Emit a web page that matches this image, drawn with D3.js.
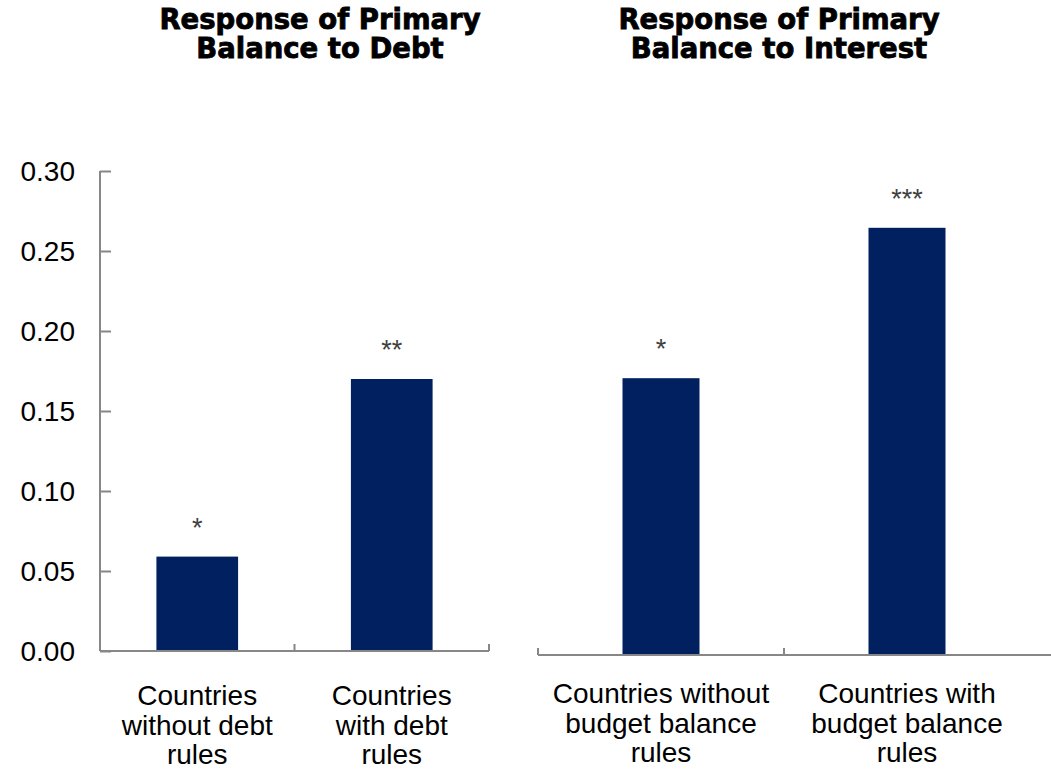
<!DOCTYPE html>
<html>
<head>
<meta charset="utf-8">
<script src="https://cdn.jsdelivr.net/npm/d3@7"></script>
<style>
  html, body { margin: 0; padding: 0; background: #ffffff; }
  svg { display: block; }
  text { font-family: "Liberation Sans", Arial, sans-serif; }
  text.title { font-family: "DejaVu Sans", sans-serif; font-weight: 900; }
</style>
</head>
<body>
<svg id="chart" width="1051" height="782"></svg>
<script>
// Panel 1: response of primary balance to debt
const debtCategories = ["Countries\nwithout debt\nrules", "Countries\nwith debt\nrules"];
const debtValues = [0.059, 0.170];
const debtStars = ["*", "**"];

// Panel 2: response of primary balance to interest
const interestCategories = ["Countries without\nbudget balance\nrules", "Countries with\nbudget balance\nrules"];
const interestValues = [0.173, 0.267];
const interestStars = ["*", "***"];

const yTicks = [0, 0.05, 0.10, 0.15, 0.20, 0.25, 0.30];
const titles = [["Response of Primary", "Balance to Debt"], ["Response of Primary", "Balance to Interest"]];

const BAR = "#002060";
const AXIS = "#878787";
const svg = d3.select("#chart");

function panel(cfg) {
  const g = svg.append("g");
  const x = d3.scaleBand().domain(cfg.categories).range(cfg.xRange).padding(0);
  const y = d3.scaleLinear().domain([0, 0.30]).range(cfg.yRange);
  const bw = x.bandwidth() * cfg.barRatio;

  // bars
  g.selectAll("rect.bar").data(cfg.values).enter().append("rect")
    .attr("class", "bar")
    .attr("x", (d, i) => x(cfg.categories[i]) + (x.bandwidth() - bw) / 2)
    .attr("y", d => y(d))
    .attr("width", bw)
    .attr("height", d => y(0) - y(d))
    .attr("fill", BAR);

  // significance stars
  g.selectAll("text.star").data(cfg.values).enter().append("text")
    .attr("class", "star")
    .attr("x", (d, i) => x(cfg.categories[i]) + x.bandwidth() / 2)
    .attr("y", d => y(d) - 20)
    .attr("text-anchor", "middle")
    .attr("font-size", 27)
    .attr("fill", "#404040")
    .text((d, i) => cfg.stars[i]);

  // category axis
  const base = y(0);
  g.append("line")
    .attr("x1", cfg.xRange[0]).attr("x2", cfg.axisEnd)
    .attr("y1", base).attr("y2", base)
    .attr("stroke", AXIS).attr("stroke-width", 2);
  const tickXs = cfg.categories.map(c => x(c)).concat(cfg.endTick ? [cfg.xRange[1]] : []);
  g.selectAll("line.xt").data(tickXs).enter().append("line")
    .attr("x1", d => d).attr("x2", d => d)
    .attr("y1", base).attr("y2", base - 7)
    .attr("stroke", AXIS).attr("stroke-width", 2);

  // category labels
  cfg.categories.forEach(c => {
    const t = g.append("text")
      .attr("x", x(c) + x.bandwidth() / 2)
      .attr("y", cfg.labelY)
      .attr("text-anchor", "middle")
      .attr("font-size", 28)
      .attr("fill", "#000");
    c.split("\n").forEach((line, k) => {
      t.append("tspan").attr("x", x(c) + x.bandwidth() / 2).attr("dy", k === 0 ? 0 : 29.5).text(line);
    });
  });

  // value axis
  if (cfg.showY) {
    const axis = d3.axisRight(y).tickValues(yTicks).tickSize(11).tickFormat(d3.format(".2f"));
    const ag = g.append("g").attr("transform", `translate(${cfg.xRange[0]},0)`).call(axis);
    ag.select(".domain").attr("stroke", AXIS).attr("stroke-width", 2).attr("d", `M0,${y(0.30)}V${y(0)}`);
    ag.selectAll(".tick line").attr("stroke", AXIS).attr("stroke-width", 2);
    ag.selectAll(".tick text")
      .attr("x", -25).attr("dy", "0.35em")
      .attr("text-anchor", "end")
      .attr("font-size", 28)
      .attr("font-family", "Liberation Sans, Arial, sans-serif")
      .attr("fill", "#000");
  }

  // panel title
  const tt = g.append("text")
    .attr("class", "title")
    .attr("x", cfg.titleX).attr("y", 29)
    .attr("text-anchor", "middle")
    .attr("font-size", 27.5)
    .attr("fill", "#000")
    .attr("stroke", "#000")
    .attr("stroke-width", 0.8);
  cfg.title.forEach((line, k) => {
    tt.append("tspan").attr("x", cfg.titleX).attr("dy", k === 0 ? 0 : 29).text(line);
  });
}

panel({
  categories: debtCategories, values: debtValues, stars: debtStars,
  xRange: [100, 489], axisEnd: 489, endTick: true, yRange: [651, 171], barRatio: 0.42,
  showY: true, labelY: 705, title: titles[0], titleX: 320
});

panel({
  categories: interestCategories, values: interestValues, stars: interestStars,
  xRange: [538, 1030], axisEnd: 1051, endTick: false, yRange: [655, 175], barRatio: 0.313,
  showY: false, labelY: 703, title: titles[1], titleX: 779
});
</script>
</body>
</html>
